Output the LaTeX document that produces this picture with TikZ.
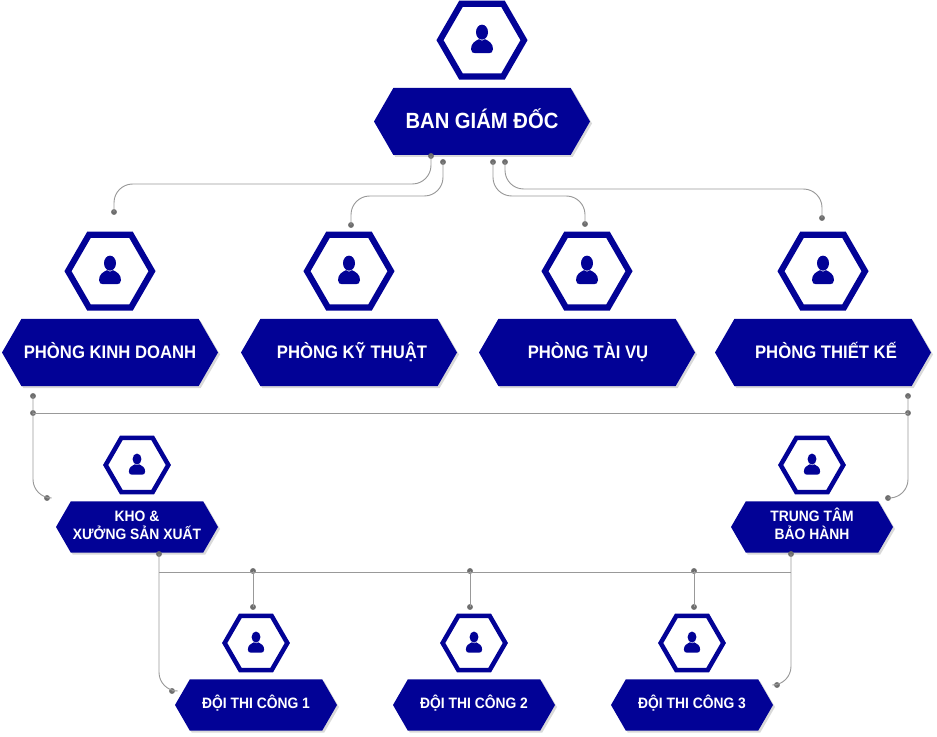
\documentclass[tikz,border=0pt]{standalone}
\usepackage{fontspec}
\setmainfont[FakeStretch=.92]{Liberation Sans}
\usetikzlibrary{positioning, shapes.geometric, shapes.symbols, shadows}
\definecolor{navy}{HTML}{020296}
\definecolor{wire}{HTML}{999999}
\definecolor{pin}{HTML}{6E6E6E}
\tikzset{
  person/.pic={
    \fill[navy] (0,-8) ellipse [x radius=6, y radius=7.5];
    \fill[navy] (-11,9) .. controls (-11,3) and (-7,1) .. (-3,-1) .. controls (-1,1) and (1,1) .. (3,-1)
      .. controls (7,1) and (11,3) .. (11,9) .. controls (11,12) and (9,13) .. (7,13)
      -- (-7,13) .. controls (-9,13) and (-11,12) .. (-11,9) -- cycle;
  },
  hexicon/.style={regular polygon, regular polygon sides=6, draw=navy, fill=white, outer sep=0pt,
    drop shadow={shadow xshift=.8pt, shadow yshift=-.8pt, opacity=.12, fill=black}},
  bigicon/.style={hexicon, line width=4.6pt, minimum size=63pt},
  smallicon/.style={hexicon, line width=3.4pt, minimum size=47pt},
  banner/.style={signal, signal to=west and east, signal pointer angle=120, fill=navy, text=white,
    align=center, outer sep=0pt, inner sep=0pt,
    drop shadow={shadow xshift=1.5pt, shadow yshift=-1.5pt, opacity=.15, fill=black}},
  bigbanner/.style={banner, minimum width=162pt, minimum height=50.25pt, text height=9pt, text depth=0pt,
    font=\bfseries\fontsize{13.6}{16}\selectfont},
  smallbanner/.style={banner, minimum width=121.5pt, minimum height=38.5pt, text height=5pt, text depth=0pt,
    font=\bfseries\fontsize{11.3}{13.5}\selectfont},
  link/.style={draw=wire, line width=.7pt, rounded corners=14pt},
  dot/.style={circle, fill=pin, inner sep=0pt, minimum size=4.4pt}
}
\begin{document}
\begin{tikzpicture}[x=.75pt, y=-.75pt, on grid]
  \useasboundingbox (0,0) rectangle (937,737);
  % top
  \node[bigbanner, text height=9.8pt, font=\bfseries\fontsize{16.5}{18}\selectfont] (gd) at (482,121.5) {BAN GIÁM ĐỐC};
  \node[bigicon, above=61pt of gd] (gdicon) {};
  \pic at (gdicon) {person};
  % departments
  \node[bigbanner] (kd) at (110,352.5) {PHÒNG KINH DOANH};
  \node[bigbanner] (kt) at (349,352.5) {\hspace*{4.5pt}PHÒNG KỸ THUẬT};
  \node[bigbanner] (tv) at (587,352.5) {\hspace*{1.5pt}PHÒNG TÀI VỤ};
  \node[bigbanner] (tk) at (823,352.5) {\hspace*{4.5pt}PHÒNG THIẾT KẾ};
  \foreach \n in {kd, kt, tv, tk} {
    \node[bigicon, above=61pt of \n] (\n icon) {};
    \pic at (\n icon) {person};
  }
  % second level
  \node[smallbanner, text height=18.4pt] (kho) at (137,527) {KHO \&\\XƯỞNG SẢN XUẤT};
  \node[smallbanner, text height=18.4pt] (bh) at (812,527) {TRUNG TÂM\\BẢO HÀNH};
  \foreach \n in {kho, bh} {
    \node[smallicon, above=46.5pt of \n] (\n icon) {};
    \pic[scale=.74] at (\n icon) {person};
  }
  % teams
  \node[smallbanner] (d1) at (256,705) {ĐỘI THI CÔNG 1};
  \node[smallbanner] (d2) at (474,705) {ĐỘI THI CÔNG 2};
  \node[smallbanner] (d3) at (692,705) {ĐỘI THI CÔNG 3};
  \foreach \n in {d1, d2, d3} {
    \node[smallicon, above=46.5pt of \n] (\n icon) {};
    \pic[scale=.74] at (\n icon) {person};
  }
  % pins
  \node[dot] (gd1) at (431,156) {};
  \node[dot] (gd2) at (443,162) {};
  \node[dot] (gd3) at (493,162) {};
  \node[dot] (gd4) at (505,162) {};
  \node[dot] (kd1) at (114,212) {};
  \node[dot] (kt1) at (351,225) {};
  \node[dot] (tv1) at (585,224) {};
  \node[dot] (tk1) at (822,218) {};
  \node[dot] (kd2) at (33,396) {};
  \node[dot] (kd3) at (33,413) {};
  \node[dot] (tk2) at (908,396) {};
  \node[dot] (tk3) at (908,413) {};
  \node[dot] (kho1) at (47,498) {};
  \node[dot] (bh1) at (888,498) {};
  \node[dot] (kho2) at (159,554) {};
  \node[dot] (bh2) at (791,554) {};
  \node[dot] (d1a) at (253,571) {};
  \node[dot] (d2a) at (470,571) {};
  \node[dot] (d3a) at (694,571) {};
  \node[dot] (d1b) at (253,607) {};
  \node[dot] (d2b) at (470,607) {};
  \node[dot] (d3b) at (694,607) {};
  \node[dot] (d1c) at (172,691) {};
  \node[dot] (d3c) at (777,685) {};
  \coordinate (rowa) at (0,184);
  \coordinate (rowb) at (0,196);
  \coordinate (rowc) at (0,189);
  \coordinate (bus) at (0,572);
  % connectors
  \draw[link] (gd1.center) |- (kd1 |- rowa) -- (kd1.center);
  \draw[link] (gd2.center) |- (kt1 |- rowb) -- (kt1.center);
  \draw[link] (gd3.center) |- (tv1 |- rowb) -- (tv1.center);
  \draw[link] (gd4.center) |- (tk1 |- rowc) -- (tk1.center);
  \draw[link] (kd2.center) |- (kho1.center);
  \draw[link] (tk2.center) |- (bh1.center);
  \draw[link] (kd3.center) -- (tk3.center);
  \draw[link] (kho2.center) |- (d1c.center);
  \draw[link] (bh2.center) |- (d3c.center);
  \draw[link] (kho2 |- bus) -- (bh2 |- bus);
  \draw[link] (d1a.center) -- (d1b.center);
  \draw[link] (d2a.center) -- (d2b.center);
  \draw[link] (d3a.center) -- (d3b.center);
\end{tikzpicture}
\end{document}
